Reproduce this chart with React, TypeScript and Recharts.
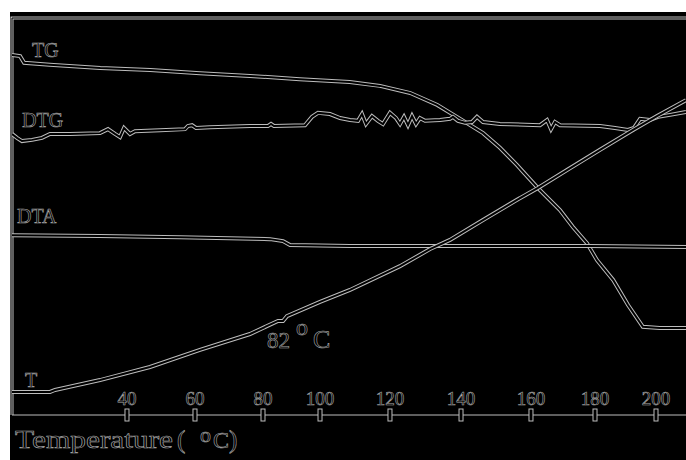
import { LineChart, Line, XAxis, YAxis } from "recharts";

// x = relative run time (0-100), y = relative signal height (0-100)
const tgData = [
  { t: 0, v: 90.7 }, { t: 1.2, v: 90.4 }, { t: 1.8, v: 88.7 }, { t: 5.6, v: 88.2 },
  { t: 13.1, v: 87.4 }, { t: 20.5, v: 86.9 }, { t: 27.9, v: 86.1 }, { t: 35.3, v: 85.4 },
  { t: 42.7, v: 84.6 }, { t: 50.1, v: 83.9 }, { t: 54.6, v: 82.9 }, { t: 59.1, v: 81.1 },
  { t: 63.1, v: 78.1 }, { t: 66.0, v: 75.1 }, { t: 69.9, v: 71.0 }, { t: 72.4, v: 67.3 },
  { t: 74.9, v: 63.0 }, { t: 78.0, v: 57.2 }, { t: 81.3, v: 51.6 }, { t: 83.2, v: 47.4 },
  { t: 85.3, v: 43.3 }, { t: 86.8, v: 39.0 }, { t: 89.2, v: 34.0 }, { t: 91.4, v: 27.7 },
  { t: 93.6, v: 22.2 }, { t: 96.1, v: 21.9 }, { t: 100, v: 21.9 },
];

const dtgData = [
  { t: 0, v: 70.8 }, { t: 0.74, v: 69.8 }, { t: 1.48, v: 69.0 }, { t: 2.97, v: 69.3 },
  { t: 4.45, v: 69.8 }, { t: 5.64, v: 70.8 }, { t: 8.61, v: 70.8 }, { t: 13.06, v: 71.0 },
  { t: 14.24, v: 72.0 }, { t: 15.28, v: 70.8 }, { t: 16.02, v: 70.0 }, { t: 16.62, v: 72.3 },
  { t: 17.51, v: 70.8 }, { t: 18.25, v: 71.5 }, { t: 21.96, v: 71.7 }, { t: 25.67, v: 72.0 },
  { t: 26.11, v: 72.8 }, { t: 26.71, v: 73.0 }, { t: 27.3, v: 72.3 }, { t: 29.38, v: 72.5 },
  { t: 35.31, v: 72.8 }, { t: 37.98, v: 72.8 }, { t: 38.43, v: 73.3 }, { t: 38.87, v: 72.8 },
  { t: 43.47, v: 73.0 }, { t: 44.51, v: 75.1 }, { t: 45.4, v: 76.1 }, { t: 47.18, v: 75.8 },
  { t: 48.66, v: 74.8 }, { t: 50.15, v: 74.3 }, { t: 51.34, v: 74.1 }, { t: 51.93, v: 75.8 },
  { t: 52.52, v: 73.3 }, { t: 53.41, v: 75.3 }, { t: 54.3, v: 74.1 }, { t: 55.04, v: 73.3 },
  { t: 56.08, v: 76.1 }, { t: 56.97, v: 74.8 }, { t: 57.57, v: 73.3 }, { t: 58.16, v: 75.1 },
  { t: 58.75, v: 73.0 }, { t: 59.35, v: 75.3 }, { t: 59.94, v: 73.3 }, { t: 60.53, v: 74.8 },
  { t: 61.28, v: 74.1 }, { t: 63.5, v: 74.3 }, { t: 64.99, v: 74.6 }, { t: 65.43, v: 75.1 },
  { t: 66.17, v: 74.1 }, { t: 67.21, v: 73.6 }, { t: 68.25, v: 73.8 }, { t: 68.99, v: 75.1 },
  { t: 69.88, v: 73.8 }, { t: 72.4, v: 73.3 }, { t: 78.34, v: 73.0 }, { t: 79.38, v: 74.3 },
  { t: 79.97, v: 72.0 }, { t: 80.56, v: 73.8 }, { t: 81.31, v: 73.0 }, { t: 87.24, v: 72.8 },
  { t: 89.47, v: 72.3 }, { t: 91.39, v: 71.8 }, { t: 92.28, v: 72.3 }, { t: 93.18, v: 74.6 },
  { t: 94.66, v: 74.3 }, { t: 95.85, v: 75.1 }, { t: 97.63, v: 75.6 }, { t: 100, v: 76.3 },
];

const dtaData = [
  { t: 0, v: 45.3 }, { t: 13.06, v: 45.1 }, { t: 24.93, v: 44.8 }, { t: 38.28, v: 44.3 },
  { t: 40.21, v: 43.8 }, { t: 41.25, v: 42.8 }, { t: 50.15, v: 42.6 }, { t: 64.99, v: 42.6 },
  { t: 85.76, v: 42.6 }, { t: 100, v: 42.3 },
];

const tempData = [
  { t: 0, v: 5.8 }, { t: 5.64, v: 5.8 }, { t: 6.38, v: 6.3 }, { t: 13.06, v: 8.8 },
  { t: 20.47, v: 12.1 }, { t: 27.89, v: 16.4 }, { t: 35.31, v: 20.4 }, { t: 39.47, v: 23.7 },
  { t: 40.21, v: 23.7 }, { t: 40.8, v: 24.9 }, { t: 45.7, v: 28.5 }, { t: 50.15, v: 31.5 },
  { t: 57.57, v: 37.5 }, { t: 62.02, v: 41.8 }, { t: 64.99, v: 44.1 }, { t: 69.88, v: 49.1 },
  { t: 74.93, v: 54.2 }, { t: 78.04, v: 57.2 }, { t: 82.34, v: 61.7 }, { t: 87.24, v: 66.8 },
  { t: 92.14, v: 71.8 }, { t: 95.7, v: 75.3 }, { t: 100, v: 79.3 },
];

// temperature marks on the time axis
const tickTimes = [17.06, 27.15, 37.24, 45.7, 56.08, 66.62, 77.0, 86.5, 95.55];
const tickLabels = ["40", "60", "80", "100", "120", "140", "160", "180", "200"];

const EDGE = "#bdbdbd";
const SERIF = "'Liberation Serif', 'DejaVu Serif', serif";

const outlineText = {
  fill: "#000",
  stroke: "#a8a8a8",
  strokeWidth: 0.6,
  fontFamily: SERIF,
};

function TempTick(props: any) {
  const { x, y, payload } = props;
  const i = tickTimes.indexOf(payload.value);
  return (
    <g>
      <rect x={x - 2} y={y - 6} width={4} height={12} fill="#000" stroke={EDGE} strokeWidth={1} />
      <text x={x} y={y - 10} textAnchor="middle" fontSize={19} {...outlineText}>
        {tickLabels[i]}
      </text>
    </g>
  );
}

function series(data: { t: number; v: number }[], key: string) {
  return [
    <Line key={key + "-edge"} data={data} dataKey="v" type="linear" stroke={EDGE}
      strokeWidth={4} dot={false} activeDot={false} isAnimationActive={false} />,
    <Line key={key + "-core"} data={data} dataKey="v" type="linear" stroke="#000"
      strokeWidth={2} dot={false} activeDot={false} isAnimationActive={false} />,
  ];
}

export default function App() {
  return (
    <div
      style={{
        position: "fixed",
        left: 10,
        top: 12,
        width: 676,
        height: 448,
        background: "#000",
        overflow: "hidden",
      }}
    >
      <LineChart width={676} height={448} margin={{ top: 6, right: 0, left: 2, bottom: 15 }}>
        <XAxis
          dataKey="t"
          type="number"
          domain={[0, 100]}
          ticks={tickTimes}
          interval={0}
          height={30}
          tickSize={0}
          tickMargin={0}
          tickLine={false}
          axisLine={{ stroke: EDGE, strokeWidth: 1 }}
          tick={<TempTick />}
          allowDataOverflow
        />
        <YAxis type="number" domain={[0, 100]} hide />
        {series(tgData, "tg")}
        {series(dtgData, "dtg")}
        {series(dtaData, "dta")}
        {series(tempData, "temp")}

        <path d="M 2 403 V 6 H 690" fill="none" stroke={EDGE} strokeWidth={3} />
        <path d="M 2 403 V 6 H 690" fill="none" stroke="#000" strokeWidth={1} />

        <text x={22} y={45} fontSize={20} {...outlineText}>TG</text>
        <text x={12} y={115} fontSize={20} {...outlineText}>DTG</text>
        <text x={7} y={211} fontSize={20} {...outlineText}>DTA</text>
        <text x={15} y={375} fontSize={20} {...outlineText}>T</text>

        <text x={257} y={336} fontSize={23} {...outlineText}>82</text>
        <text x={286} y={323} fontSize={24} {...outlineText}>o</text>
        <text x={303} y={336} fontSize={26} {...outlineText}>C</text>

        <text x={5} y={436} fontSize={25} textLength={158} lengthAdjust="spacingAndGlyphs" {...outlineText}>
          Temperature
        </text>
        <text x={167} y={436} fontSize={25} {...outlineText}>(</text>
        <text x={190} y={430} fontSize={22} {...outlineText}>o</text>
        <text x={203} y={436} fontSize={24} {...outlineText}>C</text>
        <text x={219} y={436} fontSize={25} {...outlineText}>)</text>
      </LineChart>
    </div>
  );
}
